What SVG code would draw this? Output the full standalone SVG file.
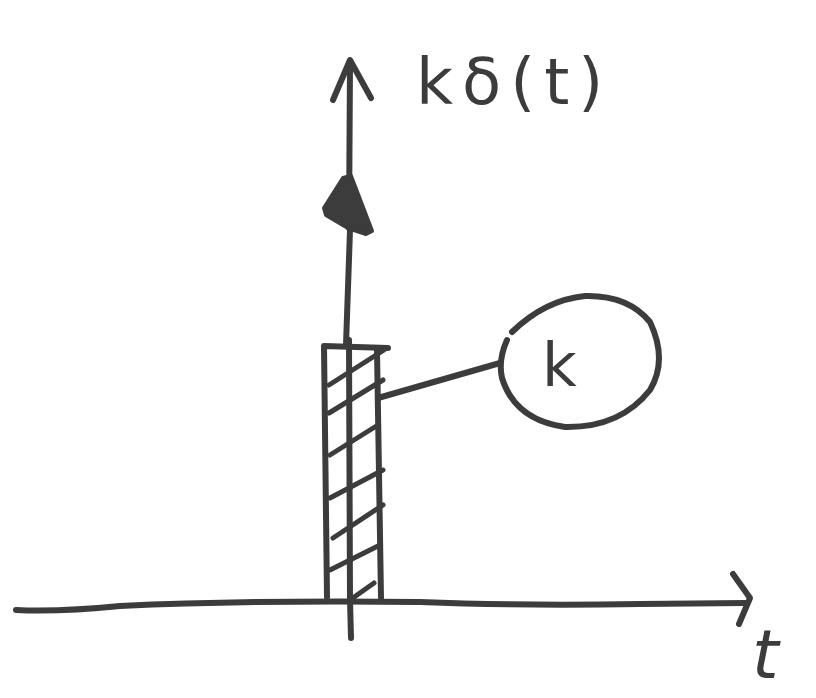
<svg xmlns="http://www.w3.org/2000/svg" width="816" height="698" viewBox="0 0 816 698">
<style>
.s{fill:none;stroke:#3c3c3c;stroke-width:6;stroke-linecap:round;stroke-linejoin:round}
.h{fill:none;stroke:#3c3c3c;stroke-width:5;stroke-linecap:round}
.t{font-family:"DejaVu Sans","Liberation Sans",sans-serif;fill:#3c3c3c}
</style>
<rect width="816" height="698" fill="#ffffff"/>
<g id="axes">
<path class="s" d="M351 638 L350 600 L349 340 M349 228 L350 62"/>
<path class="s" d="M333 100 L350 60 L371 98"/>
<path class="s" d="M16 610 Q60 612 120 606 Q250 600 420 602 Q520 606 640 604 L745 603"/>
<path class="s" d="M733 574 L750 598 L739 624"/>
</g>
<g id="impulse">
<path d="M343 178 L351 176 L372 231 L366 234 L348 228 L326 215 L324 208 Z" fill="#3c3c3c" stroke="#3c3c3c" stroke-width="4" stroke-linejoin="round"/>
<path class="s" d="M350 230 L346 345"/>
</g>
<g id="area">
<path class="s" d="M327 597 L324 346 L388 348"/>
<path class="s" d="M377 350 L381 598"/>
<path class="h" d="M329 385 L384 350 M329 413 L383 380 M330 455 L378 425 M330 498 L383 470 M333 538 L383 505 M330 570 L380 545 M350 600 L374 583"/>
</g>
<g id="label-k">
<path class="s" d="M378 398 L500 363"/>
<path class="s" d="M507 340 Q498 360 502 378 Q515 420 565 427 Q620 428 650 390 Q668 360 650 322 Q628 295 585 296 Q545 300 512 332"/>
<text class="t" x="542" y="386" font-size="60">k</text>
</g>
<g id="labels">
<text class="t" x="416" y="104" font-size="64" letter-spacing="9">kδ(t)</text>
<text class="t" x="752" y="678" font-size="68" font-style="italic">t</text>
</g>
</svg>
